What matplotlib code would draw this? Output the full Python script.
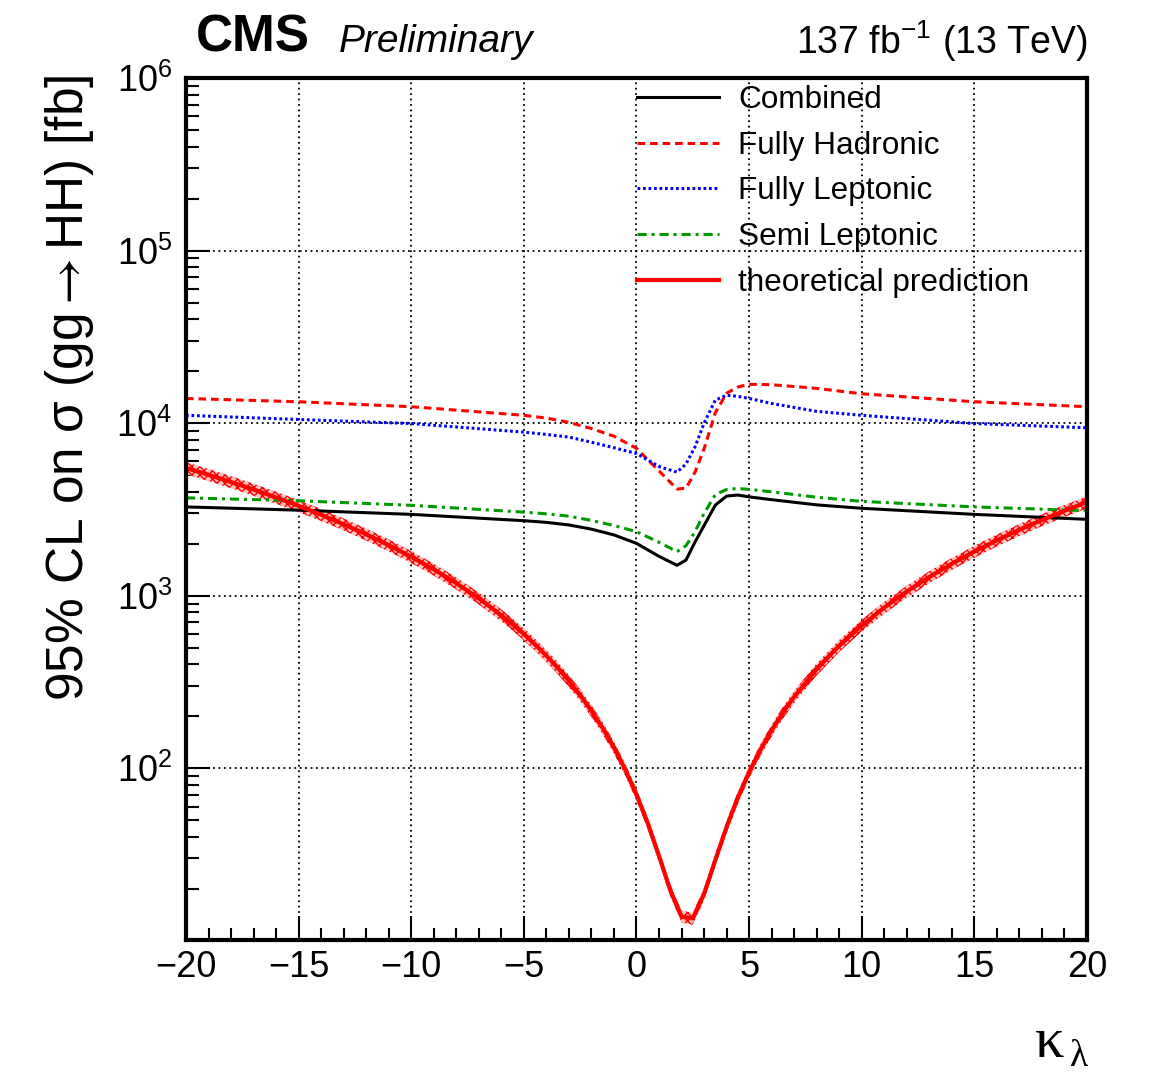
import math
import matplotlib.pyplot as plt
from matplotlib.ticker import MultipleLocator, LogLocator, FixedLocator, FuncFormatter, NullFormatter

plt.rcParams['font.family'] = ['Liberation Sans', 'DejaVu Sans']
plt.rcParams['mathtext.fontset'] = 'stix'

# kappa_lambda scan points for the limits
kl_lim = [-20, -15, -10, -5, -4, -3, -2, -1, 0, 1, 1.8, 2.2, 2.6, 3, 3.5, 4, 4.5, 5, 6, 8, 10, 15, 20]

# 95% CL upper limits [fb]
combined = [3270, 3130, 2960, 2720, 2660, 2570, 2430, 2250, 2010, 1690, 1500, 1610, 2050, 2550,
            3350, 3780, 3830, 3740, 3600, 3360, 3210, 2960, 2770]
fully_had = [13900, 13300, 12450, 11100, 10700, 10100, 9300, 8400, 7140, 5280, 4150, 4200, 5200,
             7100, 11500, 14900, 16200, 16800, 16700, 15900, 14800, 13300, 12450]
fully_lep = [11100, 10500, 9950, 8870, 8600, 8300, 7750, 7200, 6670, 5600, 5200, 5800, 7300,
             10000, 13600, 14500, 14300, 13900, 13000, 11700, 11100, 9950, 9400]
semi_lep = [3690, 3550, 3340, 3050, 2980, 2890, 2730, 2550, 2350, 2040, 1800, 1950, 2350, 3000,
            3850, 4130, 4180, 4130, 4000, 3720, 3520, 3270, 3110]

# theory curve
kl_th = [-20, -19, -18, -17, -16, -15, -14, -13, -12, -11, -10, -9, -8, -7, -6, -5.5, -5, -4.5,
         -4, -3.5, -3, -2.5, -2, -1.5, -1, -0.5, 0, 0.5, 1, 1.5, 2, 2.5, 3, 3.5, 4, 4.5, 5, 5.5,
         6, 6.5, 7, 8, 9, 10, 11, 12, 13, 14, 15, 16, 17, 18, 19, 20]
theory = [5500, 5020, 4561, 4124, 3708, 3315, 2944, 2595, 2268, 1963, 1680, 1420, 1181, 965, 771,
          682, 599, 521, 449, 382, 321, 265.5, 215, 171, 132, 98.4, 70.4, 48.0, 31.0, 19.65,
          13.81, 13.48, 18.7, 29.4, 45.7, 67.6, 94.8, 127.7, 166, 210, 259.5, 375, 512.6, 672,
          854, 1058, 1284, 1532, 1803, 2095, 2410, 2746, 3105, 3486]

y_major = [1e2, 1e3, 1e4, 1e5, 1e6]

fig = plt.figure(figsize=(11.58, 10.72), dpi=100)
ax = fig.add_axes([0.1606, 0.1231, 0.7781, 0.8041])

ax.set_yscale('log')
ax.set_xlim(-20, 20)
ax.set_ylim(10.1, 1e6)

ax.grid(True, which='major', color='black', linestyle=(0, (1, 2)), linewidth=1.3)
ax.set_axisbelow(True)

lw = 2.2
ax.plot(kl_lim, combined, color='black', lw=lw, label='Combined')
ax.plot(kl_lim, fully_had, color='red', lw=lw, dashes=(2.5, 1.6), label='Fully Hadronic')
ax.plot(kl_lim, fully_lep, color='blue', lw=lw, dashes=(0.9, 0.9), label='Fully Leptonic')
ax.plot(kl_lim, semi_lep, color='#009900', lw=lw, dashes=(3, 1.6, 1, 1.6), label='Semi Leptonic')

lo = [v * 0.92 for v in theory]
hi = [v * 1.08 for v in theory]
ax.fill_between(kl_th, lo, hi, facecolor='#ffc0c0', edgecolor='red', hatch='xxxx', lw=0)
ax.plot(kl_th, theory, color='red', lw=3.0, label='theoretical prediction')

# axis cosmetics
for s in ax.spines.values():
    s.set_linewidth(3)
ax.xaxis.set_major_locator(MultipleLocator(5))
ax.xaxis.set_minor_locator(MultipleLocator(1))
ax.yaxis.set_major_locator(FixedLocator(y_major))
ax.yaxis.set_minor_locator(LogLocator(base=10, subs=range(2, 10)))
ax.yaxis.set_major_formatter(FuncFormatter(lambda v, p: r'$\mathregular{10^{%d}}$' % round(math.log10(v))))
ax.yaxis.set_minor_formatter(NullFormatter())
ax.tick_params(which='both', direction='in', top=False, right=False, width=1.5)
ax.tick_params(which='major', length=17, labelsize=26)
ax.tick_params(axis='x', which='major', pad=7)
ax.tick_params(axis='y', which='major', pad=10)
ax.tick_params(which='minor', length=9)

leg = ax.legend(loc='upper left', bbox_to_anchor=(0.5006, 0.992), frameon=False, fontsize=22.7,
                handlelength=2.6, handletextpad=0.6, labelspacing=0.5, borderpad=0, borderaxespad=0)

# labels and header
fig.text(70 / 1158, 1 - 75 / 1072, '95% CL on \u03c3 (gg$\\rightarrow$HH) [fb]', rotation=90,
         ha='center', va='top', fontsize=37)
fig.text(1064 / 1158, 1 - 1057 / 1072, '\u03ba', ha='right', va='baseline', fontsize=42,
         family='Liberation Serif')
fig.text(1088 / 1158, 1 - 1066 / 1072, '\u03bb', ha='right', va='baseline', fontsize=27,
         family='Liberation Serif')
fig.text(196 / 1158, 1 - 52 / 1072, 'CMS', fontsize=37, fontweight='bold', va='baseline')
fig.text(339 / 1158, 1 - 52 / 1072, 'Preliminary', fontsize=28, style='italic', va='baseline')
fig.text(1088 / 1158, 1 - 54 / 1072, r'137 fb$\mathregular{^{-1}}$ (13 TeV)', fontsize=27,
         ha='right', va='baseline')

fig.savefig('out.png', dpi=100)
